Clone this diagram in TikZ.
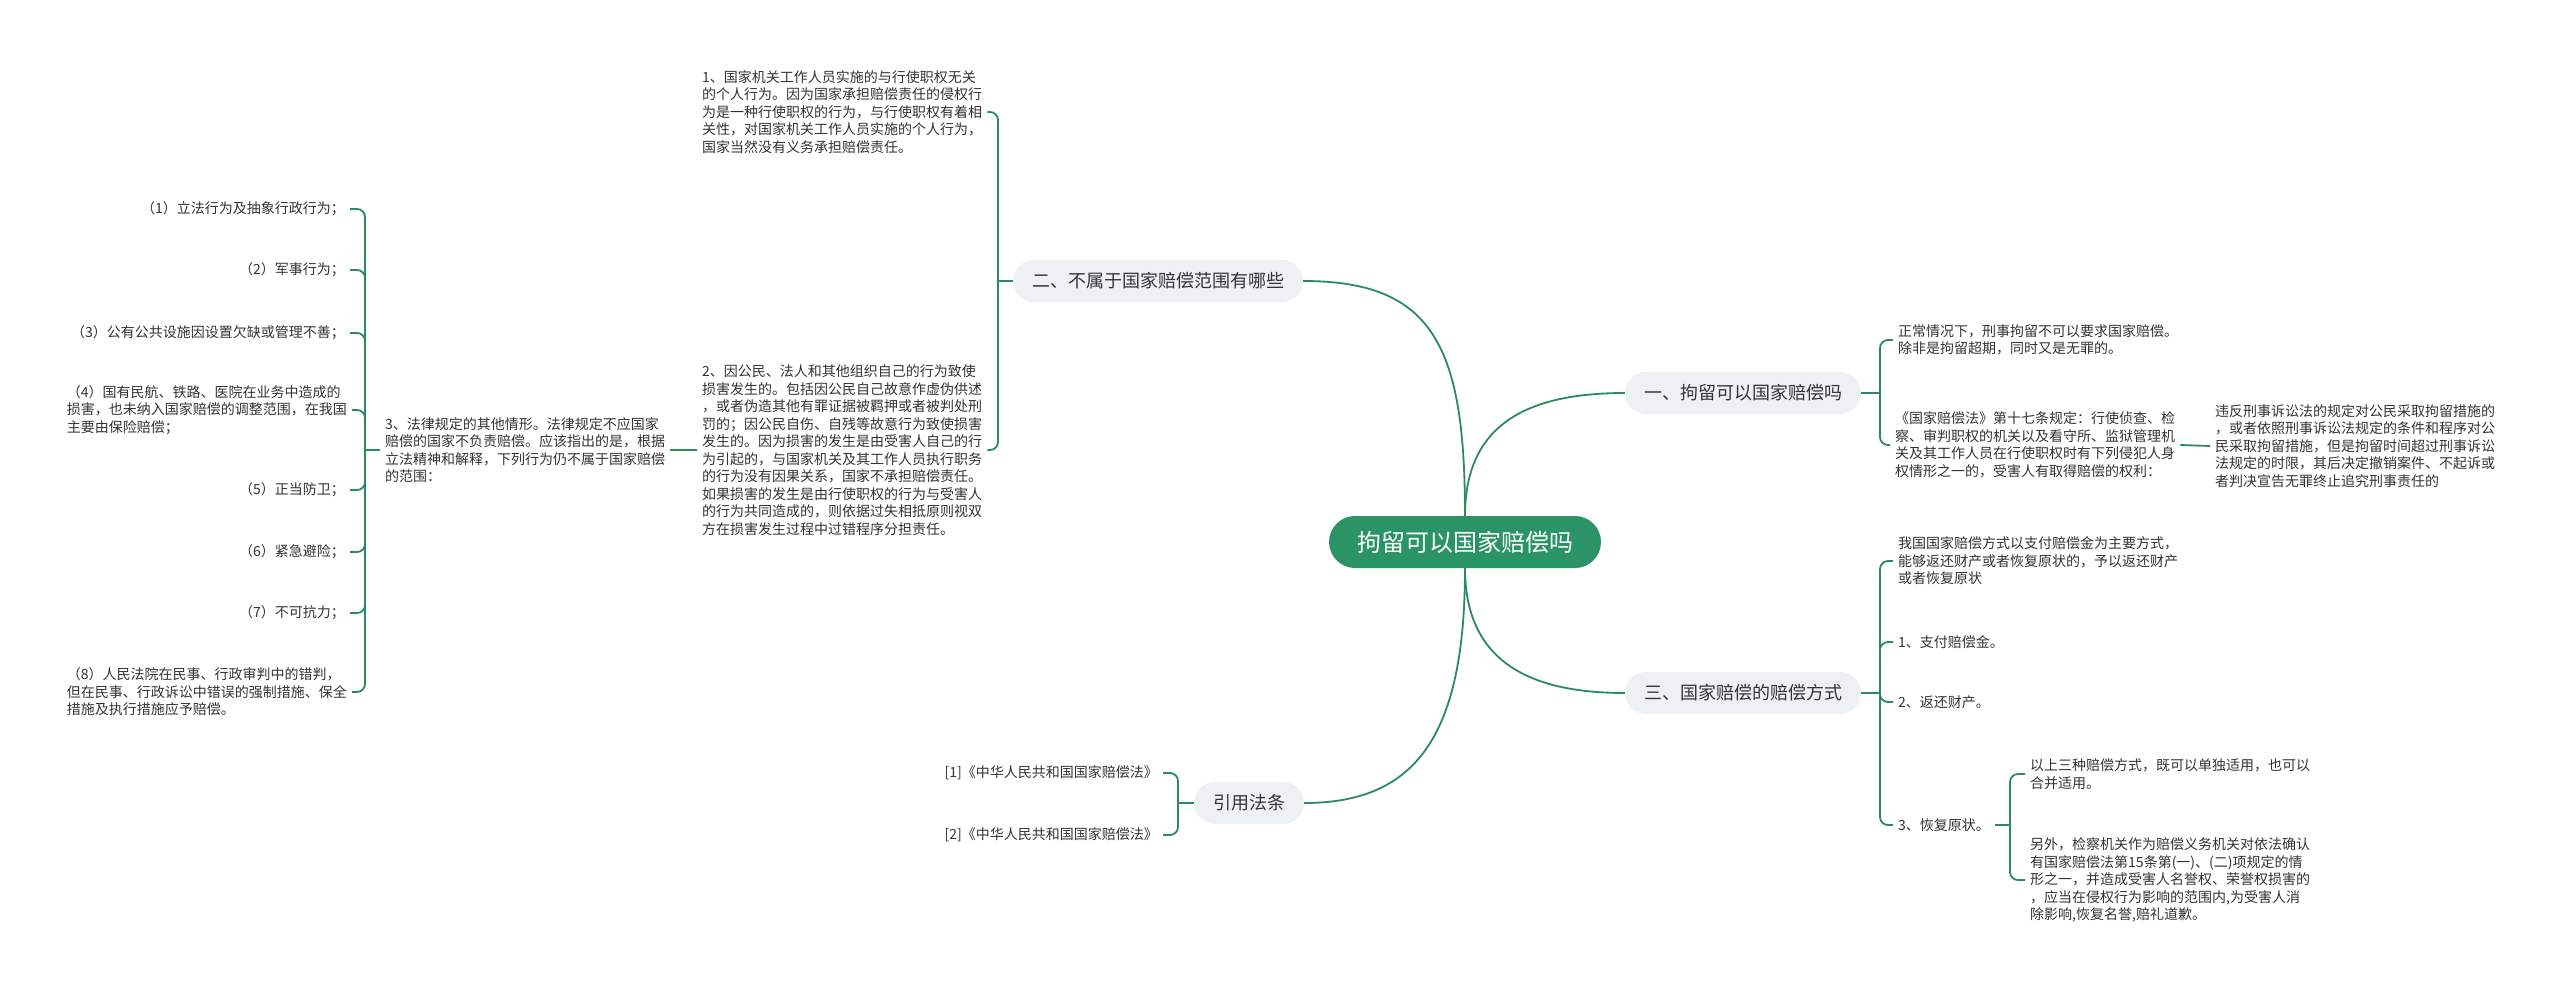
\documentclass[tikz,border=0pt]{standalone}
\usepackage{fontspec}
\setmainfont{Noto Sans CJK SC}
\definecolor{linkgreen}{HTML}{2B8A5E}
\definecolor{rootgreen}{HTML}{2A9466}
\definecolor{boxgray}{HTML}{EEF1F4}
\definecolor{txtgray}{HTML}{333333}
\tikzset{
  link/.style={draw=linkgreen, line width=1.8pt},
  brace/.style={link, rounded corners=8pt},
  rootbox/.style={fill=rootgreen, text=white, rounded corners=26pt, minimum height=52pt, inner xsep=28pt, font=\fontsize{24}{28}\selectfont},
  topic/.style={fill=boxgray, text=txtgray, rounded corners=21pt, minimum height=42pt, inner xsep=19pt, font=\fontsize{18}{22}\selectfont},
  leaf/.style={text=txtgray, align=left, inner xsep=5pt, inner ysep=2pt, font=\fontsize{14}{17.5}\selectfont},
}
\begin{document}
\begin{tikzpicture}[x=1pt, y=-1pt]
\useasboundingbox (0,0) rectangle (2560,989);
\fill[white] (0,0) rectangle (2560,989);
    % Main topics
\node[rootbox] (root) at (1465,542) {拘留可以国家赔偿吗};
\node[topic] (sec1) at (1743,393) {一、拘留可以国家赔偿吗};
\node[topic] (sec2) at (1158,281) {二、不属于国家赔偿范围有哪些};
\node[topic] (sec3) at (1743,693) {三、国家赔偿的赔偿方式};
\node[topic] (law) at (1249,803) {引用法条};
\draw[link] (root.north) .. controls +(0,-170) and +(130,0) .. (sec2.east);
\draw[link] (root.north) .. controls +(0,-90) and +(-100,0) .. (sec1.west);
\draw[link] (root.south) .. controls +(0,90) and +(-100,0) .. (sec3.west);
\draw[link] (root.south) .. controls +(0,170) and +(110,0) .. (law.east);

    % Section one
\node[leaf, anchor=west] (a1) at (1893,340) {正常情况下，刑事拘留不可以要求国家赔偿。\\除非是拘留超期，同时又是无罪的。};
\node[leaf, anchor=west] (a2) at (1890,445) {《国家赔偿法》第十七条规定：行使侦查、检\\察、审判职权的机关以及看守所、监狱管理机\\关及其工作人员在行使职权时有下列侵犯人身\\权情形之一的，受害人有取得赔偿的权利：};
\node[leaf, anchor=west] (a3) at (2210,446) {违反刑事诉讼法的规定对公民采取拘留措施的\\，或者依照刑事诉讼法规定的条件和程序对公\\民采取拘留措施，但是拘留时间超过刑事诉讼\\法规定的时限，其后决定撤销案件、不起诉或\\者判决宣告无罪终止追究刑事责任的};
\draw[link] (sec1.east) -- (1880,393);
\foreach \n in {a1,a2} \draw[brace] (1880,393) |- (\n.west);
\draw[link] (a2.east) -- (a3.west);

    % Section two
\node[leaf, anchor=west] (t1) at (697,112) {1、国家机关工作人员实施的与行使职权无关\\的个人行为。因为国家承担赔偿责任的侵权行\\为是一种行使职权的行为，与行使职权有着相\\关性，对国家机关工作人员实施的个人行为，\\国家当然没有义务承担赔偿责任。};
\node[leaf, anchor=west] (t2) at (697,450) {2、因公民、法人和其他组织自己的行为致使\\损害发生的。包括因公民自己故意作虚伪供述\\，或者伪造其他有罪证据被羁押或者被判处刑\\罚的；因公民自伤、自残等故意行为致使损害\\发生的。因为损害的发生是由受害人自己的行\\为引起的，与国家机关及其工作人员执行职务\\的行为没有因果关系，国家不承担赔偿责任。\\如果损害的发生是由行使职权的行为与受害人\\的行为共同造成的，则依据过失相抵原则视双\\方在损害发生过程中过错程序分担责任。};
\node[leaf, anchor=west] (t3) at (380,450) {3、法律规定的其他情形。法律规定不应国家\\赔偿的国家不负责赔偿。应该指出的是，根据\\立法精神和解释，下列行为仍不属于国家赔偿\\的范围：};
\draw[link] (sec2.west) -- (998,281);
\foreach \n in {t1,t2} \draw[brace] (998,281) |- (\n.east);
\draw[link] (t2.west) -- (t3.east);
\node[leaf, anchor=east] (p1) at (350,209) {（1）立法行为及抽象行政行为；};
\node[leaf, anchor=east] (p2) at (350,270) {（2）军事行为；};
\node[leaf, anchor=east] (p3) at (350,333) {（3）公有公共设施因设置欠缺或管理不善；};
\node[leaf, anchor=east] (p4) at (352,410) {（4）国有民航、铁路、医院在业务中造成的\\损害，也未纳入国家赔偿的调整范围，在我国\\主要由保险赔偿；};
\node[leaf, anchor=east] (p5) at (350,490) {（5）正当防卫；};
\node[leaf, anchor=east] (p6) at (350,552) {（6）紧急避险；};
\node[leaf, anchor=east] (p7) at (350,613) {（7）不可抗力；};
\node[leaf, anchor=east] (p8) at (352,692) {（8）人民法院在民事、行政审判中的错判，\\但在民事、行政诉讼中错误的强制措施、保全\\措施及执行措施应予赔偿。};
\draw[link] (t3.west) -- (365,450);
\foreach \i in {1,...,8} \draw[brace] (365,450) |- (p\i.east);

    % Section three
\node[leaf, anchor=west] (c1) at (1893,561) {我国国家赔偿方式以支付赔偿金为主要方式，\\能够返还财产或者恢复原状的，予以返还财产\\或者恢复原状};
\node[leaf, anchor=west] (c2) at (1893,642) {1、支付赔偿金。};
\node[leaf, anchor=west] (c3) at (1893,702) {2、返还财产。};
\node[leaf, anchor=west] (c4) at (1893,825) {3、恢复原状。};
\node[leaf, anchor=west] (d1) at (2025,774) {以上三种赔偿方式，既可以单独适用，也可以\\合并适用。};
\node[leaf, anchor=west] (d2) at (2025,880) {另外，检察机关作为赔偿义务机关对依法确认\\有国家赔偿法第15条第(一)、(二)项规定的情\\形之一，并造成受害人名誉权、荣誉权损害的\\，应当在侵权行为影响的范围内,为受害人消\\除影响,恢复名誉,赔礼道歉。};
\draw[link] (sec3.east) -- (1880,693);
\foreach \n in {c1,c2,c3,c4} \draw[brace] (1880,693) |- (\n.west);
\draw[link] (c4.east) -- (2010,825);
\foreach \n in {d1,d2} \draw[brace] (2010,825) |- (\n.west);

    % Cited laws
\node[leaf, anchor=east] (e1) at (1163,773) {[1]《中华人民共和国国家赔偿法》};
\node[leaf, anchor=east] (e2) at (1163,835) {[2]《中华人民共和国国家赔偿法》};
\draw[link] (law.west) -- (1178,803);
\foreach \n in {e1,e2} \draw[brace] (1178,803) |- (\n.east);
\end{tikzpicture}
\end{document}
